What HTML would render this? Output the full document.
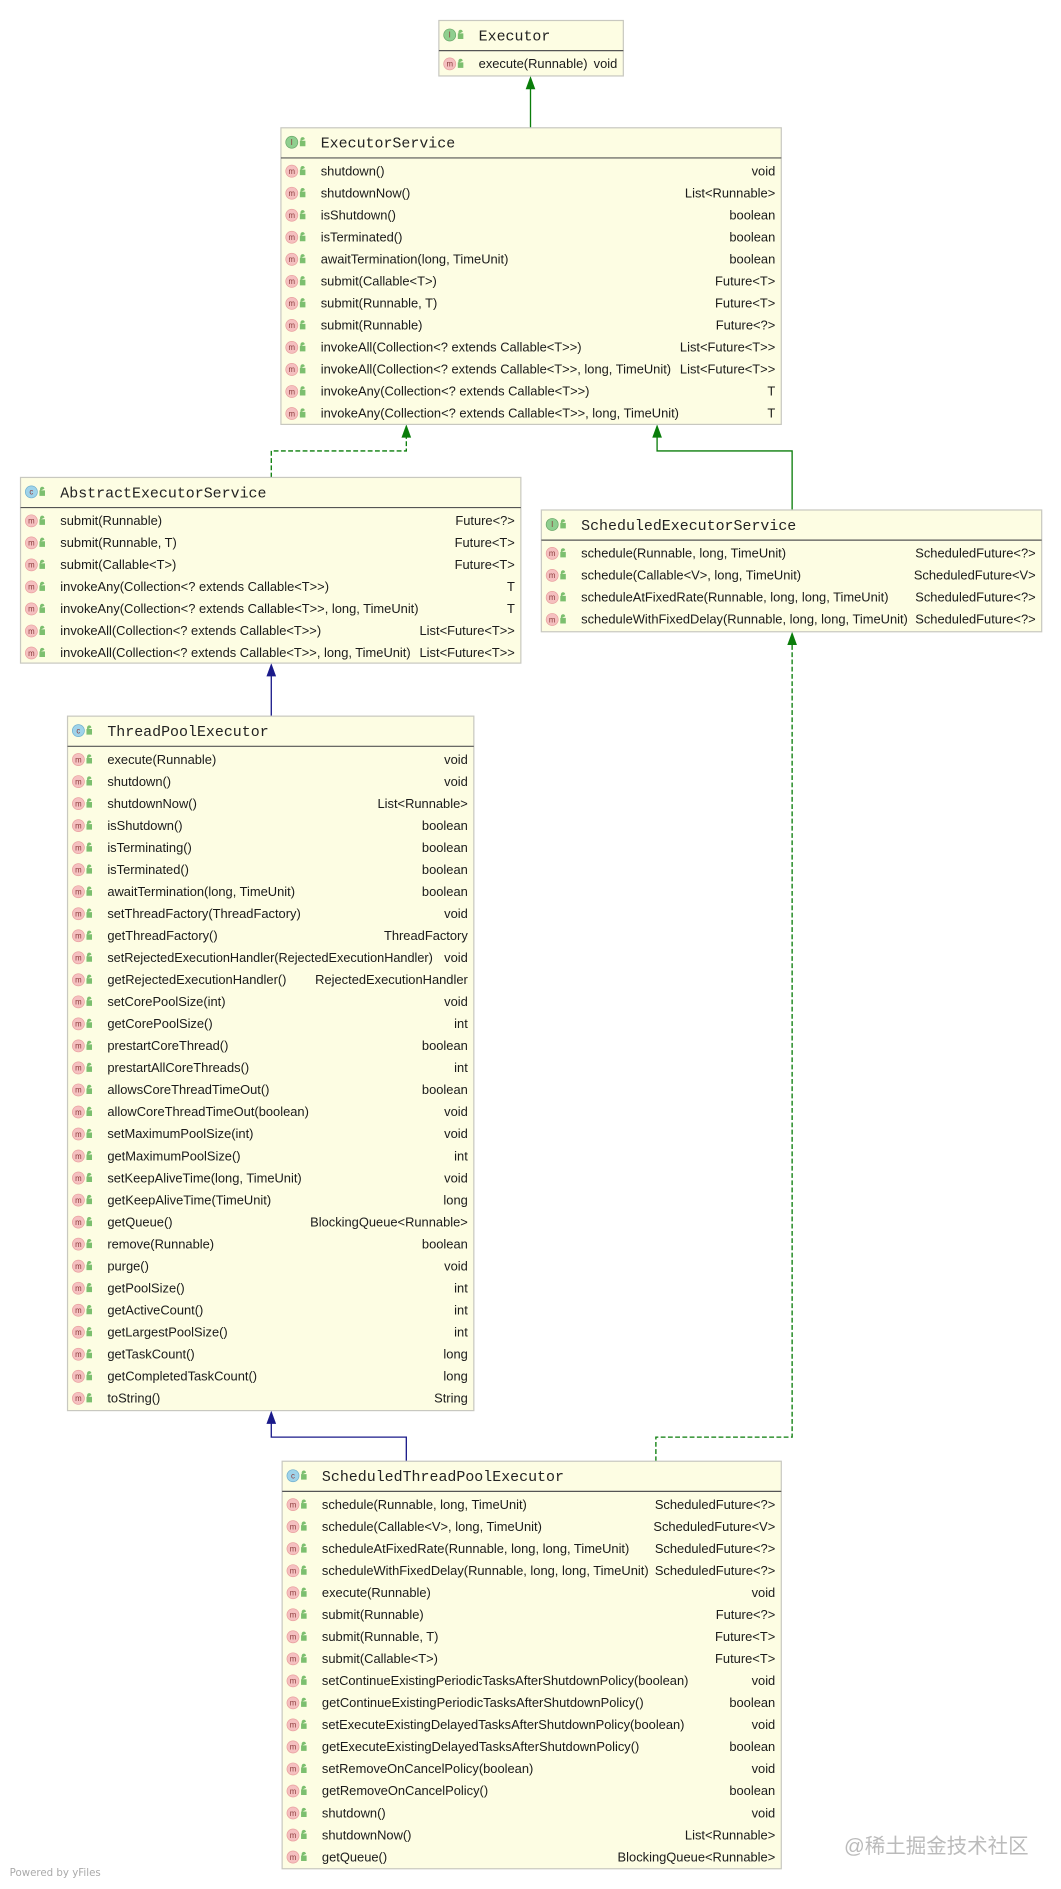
<!DOCTYPE html>
<html><head><meta charset="utf-8"><style>
html,body{margin:0;padding:0;background:#fff;}
svg{display:block;}
.t{font-family:"Liberation Mono",monospace;font-size:12.4px;fill:#222;}
.r{font-family:"Liberation Sans",sans-serif;font-size:10.7px;fill:#1a1a1a;}
.e{text-anchor:end;}
.mi{font-family:"Liberation Sans",sans-serif;font-size:6.5px;fill:#8a3a3a;text-anchor:middle;}
.box{fill:#fdfde3;stroke:#c8c8c0;stroke-width:1;}
.sep{stroke:#555;stroke-width:1;}
</style></head><body>
<svg width="1061" height="1889" viewBox="0 0 880 1566.8" xmlns="http://www.w3.org/2000/svg">
<defs>
<g id="m"><circle cx="9" cy="0" r="5" fill="#f5c0c0" stroke="#e9a0a0" stroke-width="0.6"/><path d="M16 -1 h4 v4 h-4z M16.5 -1 v-1.5 a1.5 1.5 0 0 1 3 0" fill="#7cbf6f" stroke="#7cbf6f" stroke-width="0.6"/></g>
<g id="lk"><path d="M16 -1 h4 v4 h-4z M16.5 -1 v-1.5 a1.5 1.5 0 0 1 3 0" fill="#7cbf6f" stroke="#7cbf6f" stroke-width="0.6"/></g>
</defs>

<g fill="none" stroke-width="1.1">
<path d="M440 106 V71" stroke="#0a7d0a"/>
<path d="M225 396 V374 H337 V360" stroke="#0a7d0a" stroke-dasharray="4,2"/>
<path d="M657 423 V374 H545 V360" stroke="#0a7d0a"/>
<path d="M225 594 V558" stroke="#1a1a8a"/>
<path d="M337 1212 V1192 H225 V1178" stroke="#1a1a8a"/>
<path d="M544 1212 V1192 H657 V532" stroke="#0a7d0a" stroke-dasharray="4,2"/>
</g>
<path d="M440 63 l-4 11 h8z" fill="#0a7d0a"/>
<path d="M337 352 l-4 11 h8z" fill="#0a7d0a"/>
<path d="M545 352 l-4 11 h8z" fill="#0a7d0a"/>
<path d="M657 524 l-4 11 h8z" fill="#0a7d0a"/>
<path d="M225 550 l-4 11 h8z" fill="#1a1a8a"/>
<path d="M225 1170 l-4 11 h8z" fill="#1a1a8a"/>

<g transform="translate(364,17)">
<rect class="box" x="0" y="0" width="153" height="46"/>
<circle cx="9" cy="12" r="5" fill="#8fcf8f" stroke="#6aa86a" stroke-width="0.6"/><text x="9" y="14.3" class="mi" fill="#2c5a2c">I</text>
<use href="#lk" y="12"/>
<text x="33" y="16.5" class="t">Executor</text>
<line class="sep" x1="0" y1="25" x2="153" y2="25"/>
<g transform="translate(0,36)"><use href="#m"/><text x="9" y="2.3" class="mi">m</text><text x="33" y="3.5" class="r">execute(Runnable)</text><text x="148" y="3.5" class="r e">void</text></g>
</g>

<g transform="translate(233,106)">
<rect class="box" x="0" y="0" width="415" height="246"/>
<circle cx="9" cy="12" r="5" fill="#8fcf8f" stroke="#6aa86a" stroke-width="0.6"/><text x="9" y="14.3" class="mi" fill="#2c5a2c">I</text>
<use href="#lk" y="12"/>
<text x="33" y="16.5" class="t">ExecutorService</text>
<line class="sep" x1="0" y1="25" x2="415" y2="25"/>
<g transform="translate(0,36)"><use href="#m"/><text x="9" y="2.3" class="mi">m</text><text x="33" y="3.5" class="r">shutdown()</text><text x="410" y="3.5" class="r e">void</text></g>
<g transform="translate(0,54.27)"><use href="#m"/><text x="9" y="2.3" class="mi">m</text><text x="33" y="3.5" class="r">shutdownNow()</text><text x="410" y="3.5" class="r e">List&lt;Runnable&gt;</text></g>
<g transform="translate(0,72.54)"><use href="#m"/><text x="9" y="2.3" class="mi">m</text><text x="33" y="3.5" class="r">isShutdown()</text><text x="410" y="3.5" class="r e">boolean</text></g>
<g transform="translate(0,90.81)"><use href="#m"/><text x="9" y="2.3" class="mi">m</text><text x="33" y="3.5" class="r">isTerminated()</text><text x="410" y="3.5" class="r e">boolean</text></g>
<g transform="translate(0,109.08)"><use href="#m"/><text x="9" y="2.3" class="mi">m</text><text x="33" y="3.5" class="r">awaitTermination(long, TimeUnit)</text><text x="410" y="3.5" class="r e">boolean</text></g>
<g transform="translate(0,127.35)"><use href="#m"/><text x="9" y="2.3" class="mi">m</text><text x="33" y="3.5" class="r">submit(Callable&lt;T&gt;)</text><text x="410" y="3.5" class="r e">Future&lt;T&gt;</text></g>
<g transform="translate(0,145.62)"><use href="#m"/><text x="9" y="2.3" class="mi">m</text><text x="33" y="3.5" class="r">submit(Runnable, T)</text><text x="410" y="3.5" class="r e">Future&lt;T&gt;</text></g>
<g transform="translate(0,163.89)"><use href="#m"/><text x="9" y="2.3" class="mi">m</text><text x="33" y="3.5" class="r">submit(Runnable)</text><text x="410" y="3.5" class="r e">Future&lt;?&gt;</text></g>
<g transform="translate(0,182.16)"><use href="#m"/><text x="9" y="2.3" class="mi">m</text><text x="33" y="3.5" class="r">invokeAll(Collection&lt;? extends Callable&lt;T&gt;&gt;)</text><text x="410" y="3.5" class="r e">List&lt;Future&lt;T&gt;&gt;</text></g>
<g transform="translate(0,200.43)"><use href="#m"/><text x="9" y="2.3" class="mi">m</text><text x="33" y="3.5" class="r">invokeAll(Collection&lt;? extends Callable&lt;T&gt;&gt;, long, TimeUnit)</text><text x="410" y="3.5" class="r e">List&lt;Future&lt;T&gt;&gt;</text></g>
<g transform="translate(0,218.7)"><use href="#m"/><text x="9" y="2.3" class="mi">m</text><text x="33" y="3.5" class="r">invokeAny(Collection&lt;? extends Callable&lt;T&gt;&gt;)</text><text x="410" y="3.5" class="r e">T</text></g>
<g transform="translate(0,236.97)"><use href="#m"/><text x="9" y="2.3" class="mi">m</text><text x="33" y="3.5" class="r">invokeAny(Collection&lt;? extends Callable&lt;T&gt;&gt;, long, TimeUnit)</text><text x="410" y="3.5" class="r e">T</text></g>
</g>

<g transform="translate(17,396)">
<rect class="box" x="0" y="0" width="415" height="154"/>
<circle cx="9" cy="12" r="5" fill="#9fd3ea" stroke="#6fb0cf" stroke-width="0.6"/><text x="9" y="14.3" class="mi" fill="#235">c</text>
<use href="#lk" y="12"/>
<text x="33" y="16.5" class="t">AbstractExecutorService</text>
<line class="sep" x1="0" y1="25" x2="415" y2="25"/>
<g transform="translate(0,36)"><use href="#m"/><text x="9" y="2.3" class="mi">m</text><text x="33" y="3.5" class="r">submit(Runnable)</text><text x="410" y="3.5" class="r e">Future&lt;?&gt;</text></g>
<g transform="translate(0,54.27)"><use href="#m"/><text x="9" y="2.3" class="mi">m</text><text x="33" y="3.5" class="r">submit(Runnable, T)</text><text x="410" y="3.5" class="r e">Future&lt;T&gt;</text></g>
<g transform="translate(0,72.54)"><use href="#m"/><text x="9" y="2.3" class="mi">m</text><text x="33" y="3.5" class="r">submit(Callable&lt;T&gt;)</text><text x="410" y="3.5" class="r e">Future&lt;T&gt;</text></g>
<g transform="translate(0,90.81)"><use href="#m"/><text x="9" y="2.3" class="mi">m</text><text x="33" y="3.5" class="r">invokeAny(Collection&lt;? extends Callable&lt;T&gt;&gt;)</text><text x="410" y="3.5" class="r e">T</text></g>
<g transform="translate(0,109.08)"><use href="#m"/><text x="9" y="2.3" class="mi">m</text><text x="33" y="3.5" class="r">invokeAny(Collection&lt;? extends Callable&lt;T&gt;&gt;, long, TimeUnit)</text><text x="410" y="3.5" class="r e">T</text></g>
<g transform="translate(0,127.35)"><use href="#m"/><text x="9" y="2.3" class="mi">m</text><text x="33" y="3.5" class="r">invokeAll(Collection&lt;? extends Callable&lt;T&gt;&gt;)</text><text x="410" y="3.5" class="r e">List&lt;Future&lt;T&gt;&gt;</text></g>
<g transform="translate(0,145.62)"><use href="#m"/><text x="9" y="2.3" class="mi">m</text><text x="33" y="3.5" class="r">invokeAll(Collection&lt;? extends Callable&lt;T&gt;&gt;, long, TimeUnit)</text><text x="410" y="3.5" class="r e">List&lt;Future&lt;T&gt;&gt;</text></g>
</g>

<g transform="translate(449,423)">
<rect class="box" x="0" y="0" width="415" height="101"/>
<circle cx="9" cy="12" r="5" fill="#8fcf8f" stroke="#6aa86a" stroke-width="0.6"/><text x="9" y="14.3" class="mi" fill="#2c5a2c">I</text>
<use href="#lk" y="12"/>
<text x="33" y="16.5" class="t">ScheduledExecutorService</text>
<line class="sep" x1="0" y1="25" x2="415" y2="25"/>
<g transform="translate(0,36)"><use href="#m"/><text x="9" y="2.3" class="mi">m</text><text x="33" y="3.5" class="r">schedule(Runnable, long, TimeUnit)</text><text x="410" y="3.5" class="r e">ScheduledFuture&lt;?&gt;</text></g>
<g transform="translate(0,54.27)"><use href="#m"/><text x="9" y="2.3" class="mi">m</text><text x="33" y="3.5" class="r">schedule(Callable&lt;V&gt;, long, TimeUnit)</text><text x="410" y="3.5" class="r e">ScheduledFuture&lt;V&gt;</text></g>
<g transform="translate(0,72.54)"><use href="#m"/><text x="9" y="2.3" class="mi">m</text><text x="33" y="3.5" class="r">scheduleAtFixedRate(Runnable, long, long, TimeUnit)</text><text x="410" y="3.5" class="r e">ScheduledFuture&lt;?&gt;</text></g>
<g transform="translate(0,90.81)"><use href="#m"/><text x="9" y="2.3" class="mi">m</text><text x="33" y="3.5" class="r">scheduleWithFixedDelay(Runnable, long, long, TimeUnit)</text><text x="410" y="3.5" class="r e">ScheduledFuture&lt;?&gt;</text></g>
</g>

<g transform="translate(56,594)">
<rect class="box" x="0" y="0" width="337" height="576"/>
<circle cx="9" cy="12" r="5" fill="#9fd3ea" stroke="#6fb0cf" stroke-width="0.6"/><text x="9" y="14.3" class="mi" fill="#235">c</text>
<use href="#lk" y="12"/>
<text x="33" y="16.5" class="t">ThreadPoolExecutor</text>
<line class="sep" x1="0" y1="25" x2="337" y2="25"/>
<g transform="translate(0,36)"><use href="#m"/><text x="9" y="2.3" class="mi">m</text><text x="33" y="3.5" class="r">execute(Runnable)</text><text x="332" y="3.5" class="r e">void</text></g>
<g transform="translate(0,54.27)"><use href="#m"/><text x="9" y="2.3" class="mi">m</text><text x="33" y="3.5" class="r">shutdown()</text><text x="332" y="3.5" class="r e">void</text></g>
<g transform="translate(0,72.54)"><use href="#m"/><text x="9" y="2.3" class="mi">m</text><text x="33" y="3.5" class="r">shutdownNow()</text><text x="332" y="3.5" class="r e">List&lt;Runnable&gt;</text></g>
<g transform="translate(0,90.81)"><use href="#m"/><text x="9" y="2.3" class="mi">m</text><text x="33" y="3.5" class="r">isShutdown()</text><text x="332" y="3.5" class="r e">boolean</text></g>
<g transform="translate(0,109.08)"><use href="#m"/><text x="9" y="2.3" class="mi">m</text><text x="33" y="3.5" class="r">isTerminating()</text><text x="332" y="3.5" class="r e">boolean</text></g>
<g transform="translate(0,127.35)"><use href="#m"/><text x="9" y="2.3" class="mi">m</text><text x="33" y="3.5" class="r">isTerminated()</text><text x="332" y="3.5" class="r e">boolean</text></g>
<g transform="translate(0,145.62)"><use href="#m"/><text x="9" y="2.3" class="mi">m</text><text x="33" y="3.5" class="r">awaitTermination(long, TimeUnit)</text><text x="332" y="3.5" class="r e">boolean</text></g>
<g transform="translate(0,163.89)"><use href="#m"/><text x="9" y="2.3" class="mi">m</text><text x="33" y="3.5" class="r">setThreadFactory(ThreadFactory)</text><text x="332" y="3.5" class="r e">void</text></g>
<g transform="translate(0,182.16)"><use href="#m"/><text x="9" y="2.3" class="mi">m</text><text x="33" y="3.5" class="r">getThreadFactory()</text><text x="332" y="3.5" class="r e">ThreadFactory</text></g>
<g transform="translate(0,200.43)"><use href="#m"/><text x="9" y="2.3" class="mi">m</text><text x="33" y="3.5" class="r" textLength="270" lengthAdjust="spacingAndGlyphs">setRejectedExecutionHandler(RejectedExecutionHandler)</text><text x="332" y="3.5" class="r e">void</text></g>
<g transform="translate(0,218.7)"><use href="#m"/><text x="9" y="2.3" class="mi">m</text><text x="33" y="3.5" class="r">getRejectedExecutionHandler()</text><text x="332" y="3.5" class="r e">RejectedExecutionHandler</text></g>
<g transform="translate(0,236.97)"><use href="#m"/><text x="9" y="2.3" class="mi">m</text><text x="33" y="3.5" class="r">setCorePoolSize(int)</text><text x="332" y="3.5" class="r e">void</text></g>
<g transform="translate(0,255.24)"><use href="#m"/><text x="9" y="2.3" class="mi">m</text><text x="33" y="3.5" class="r">getCorePoolSize()</text><text x="332" y="3.5" class="r e">int</text></g>
<g transform="translate(0,273.51)"><use href="#m"/><text x="9" y="2.3" class="mi">m</text><text x="33" y="3.5" class="r">prestartCoreThread()</text><text x="332" y="3.5" class="r e">boolean</text></g>
<g transform="translate(0,291.78)"><use href="#m"/><text x="9" y="2.3" class="mi">m</text><text x="33" y="3.5" class="r">prestartAllCoreThreads()</text><text x="332" y="3.5" class="r e">int</text></g>
<g transform="translate(0,310.05)"><use href="#m"/><text x="9" y="2.3" class="mi">m</text><text x="33" y="3.5" class="r">allowsCoreThreadTimeOut()</text><text x="332" y="3.5" class="r e">boolean</text></g>
<g transform="translate(0,328.32)"><use href="#m"/><text x="9" y="2.3" class="mi">m</text><text x="33" y="3.5" class="r">allowCoreThreadTimeOut(boolean)</text><text x="332" y="3.5" class="r e">void</text></g>
<g transform="translate(0,346.59)"><use href="#m"/><text x="9" y="2.3" class="mi">m</text><text x="33" y="3.5" class="r">setMaximumPoolSize(int)</text><text x="332" y="3.5" class="r e">void</text></g>
<g transform="translate(0,364.86)"><use href="#m"/><text x="9" y="2.3" class="mi">m</text><text x="33" y="3.5" class="r">getMaximumPoolSize()</text><text x="332" y="3.5" class="r e">int</text></g>
<g transform="translate(0,383.13)"><use href="#m"/><text x="9" y="2.3" class="mi">m</text><text x="33" y="3.5" class="r">setKeepAliveTime(long, TimeUnit)</text><text x="332" y="3.5" class="r e">void</text></g>
<g transform="translate(0,401.4)"><use href="#m"/><text x="9" y="2.3" class="mi">m</text><text x="33" y="3.5" class="r">getKeepAliveTime(TimeUnit)</text><text x="332" y="3.5" class="r e">long</text></g>
<g transform="translate(0,419.67)"><use href="#m"/><text x="9" y="2.3" class="mi">m</text><text x="33" y="3.5" class="r">getQueue()</text><text x="332" y="3.5" class="r e">BlockingQueue&lt;Runnable&gt;</text></g>
<g transform="translate(0,437.94)"><use href="#m"/><text x="9" y="2.3" class="mi">m</text><text x="33" y="3.5" class="r">remove(Runnable)</text><text x="332" y="3.5" class="r e">boolean</text></g>
<g transform="translate(0,456.21)"><use href="#m"/><text x="9" y="2.3" class="mi">m</text><text x="33" y="3.5" class="r">purge()</text><text x="332" y="3.5" class="r e">void</text></g>
<g transform="translate(0,474.48)"><use href="#m"/><text x="9" y="2.3" class="mi">m</text><text x="33" y="3.5" class="r">getPoolSize()</text><text x="332" y="3.5" class="r e">int</text></g>
<g transform="translate(0,492.75)"><use href="#m"/><text x="9" y="2.3" class="mi">m</text><text x="33" y="3.5" class="r">getActiveCount()</text><text x="332" y="3.5" class="r e">int</text></g>
<g transform="translate(0,511.02)"><use href="#m"/><text x="9" y="2.3" class="mi">m</text><text x="33" y="3.5" class="r">getLargestPoolSize()</text><text x="332" y="3.5" class="r e">int</text></g>
<g transform="translate(0,529.29)"><use href="#m"/><text x="9" y="2.3" class="mi">m</text><text x="33" y="3.5" class="r">getTaskCount()</text><text x="332" y="3.5" class="r e">long</text></g>
<g transform="translate(0,547.56)"><use href="#m"/><text x="9" y="2.3" class="mi">m</text><text x="33" y="3.5" class="r">getCompletedTaskCount()</text><text x="332" y="3.5" class="r e">long</text></g>
<g transform="translate(0,565.83)"><use href="#m"/><text x="9" y="2.3" class="mi">m</text><text x="33" y="3.5" class="r">toString()</text><text x="332" y="3.5" class="r e">String</text></g>
</g>

<g transform="translate(234,1212)">
<rect class="box" x="0" y="0" width="414" height="338"/>
<circle cx="9" cy="12" r="5" fill="#9fd3ea" stroke="#6fb0cf" stroke-width="0.6"/><text x="9" y="14.3" class="mi" fill="#235">c</text>
<use href="#lk" y="12"/>
<text x="33" y="16.5" class="t">ScheduledThreadPoolExecutor</text>
<line class="sep" x1="0" y1="25" x2="414" y2="25"/>
<g transform="translate(0,36)"><use href="#m"/><text x="9" y="2.3" class="mi">m</text><text x="33" y="3.5" class="r">schedule(Runnable, long, TimeUnit)</text><text x="409" y="3.5" class="r e">ScheduledFuture&lt;?&gt;</text></g>
<g transform="translate(0,54.27)"><use href="#m"/><text x="9" y="2.3" class="mi">m</text><text x="33" y="3.5" class="r">schedule(Callable&lt;V&gt;, long, TimeUnit)</text><text x="409" y="3.5" class="r e">ScheduledFuture&lt;V&gt;</text></g>
<g transform="translate(0,72.54)"><use href="#m"/><text x="9" y="2.3" class="mi">m</text><text x="33" y="3.5" class="r">scheduleAtFixedRate(Runnable, long, long, TimeUnit)</text><text x="409" y="3.5" class="r e">ScheduledFuture&lt;?&gt;</text></g>
<g transform="translate(0,90.81)"><use href="#m"/><text x="9" y="2.3" class="mi">m</text><text x="33" y="3.5" class="r">scheduleWithFixedDelay(Runnable, long, long, TimeUnit)</text><text x="409" y="3.5" class="r e">ScheduledFuture&lt;?&gt;</text></g>
<g transform="translate(0,109.08)"><use href="#m"/><text x="9" y="2.3" class="mi">m</text><text x="33" y="3.5" class="r">execute(Runnable)</text><text x="409" y="3.5" class="r e">void</text></g>
<g transform="translate(0,127.35)"><use href="#m"/><text x="9" y="2.3" class="mi">m</text><text x="33" y="3.5" class="r">submit(Runnable)</text><text x="409" y="3.5" class="r e">Future&lt;?&gt;</text></g>
<g transform="translate(0,145.62)"><use href="#m"/><text x="9" y="2.3" class="mi">m</text><text x="33" y="3.5" class="r">submit(Runnable, T)</text><text x="409" y="3.5" class="r e">Future&lt;T&gt;</text></g>
<g transform="translate(0,163.89)"><use href="#m"/><text x="9" y="2.3" class="mi">m</text><text x="33" y="3.5" class="r">submit(Callable&lt;T&gt;)</text><text x="409" y="3.5" class="r e">Future&lt;T&gt;</text></g>
<g transform="translate(0,182.16)"><use href="#m"/><text x="9" y="2.3" class="mi">m</text><text x="33" y="3.5" class="r" textLength="304" lengthAdjust="spacingAndGlyphs">setContinueExistingPeriodicTasksAfterShutdownPolicy(boolean)</text><text x="409" y="3.5" class="r e">void</text></g>
<g transform="translate(0,200.43)"><use href="#m"/><text x="9" y="2.3" class="mi">m</text><text x="33" y="3.5" class="r">getContinueExistingPeriodicTasksAfterShutdownPolicy()</text><text x="409" y="3.5" class="r e">boolean</text></g>
<g transform="translate(0,218.7)"><use href="#m"/><text x="9" y="2.3" class="mi">m</text><text x="33" y="3.5" class="r">setExecuteExistingDelayedTasksAfterShutdownPolicy(boolean)</text><text x="409" y="3.5" class="r e">void</text></g>
<g transform="translate(0,236.97)"><use href="#m"/><text x="9" y="2.3" class="mi">m</text><text x="33" y="3.5" class="r">getExecuteExistingDelayedTasksAfterShutdownPolicy()</text><text x="409" y="3.5" class="r e">boolean</text></g>
<g transform="translate(0,255.24)"><use href="#m"/><text x="9" y="2.3" class="mi">m</text><text x="33" y="3.5" class="r">setRemoveOnCancelPolicy(boolean)</text><text x="409" y="3.5" class="r e">void</text></g>
<g transform="translate(0,273.51)"><use href="#m"/><text x="9" y="2.3" class="mi">m</text><text x="33" y="3.5" class="r">getRemoveOnCancelPolicy()</text><text x="409" y="3.5" class="r e">boolean</text></g>
<g transform="translate(0,291.78)"><use href="#m"/><text x="9" y="2.3" class="mi">m</text><text x="33" y="3.5" class="r">shutdown()</text><text x="409" y="3.5" class="r e">void</text></g>
<g transform="translate(0,310.05)"><use href="#m"/><text x="9" y="2.3" class="mi">m</text><text x="33" y="3.5" class="r">shutdownNow()</text><text x="409" y="3.5" class="r e">List&lt;Runnable&gt;</text></g>
<g transform="translate(0,328.32)"><use href="#m"/><text x="9" y="2.3" class="mi">m</text><text x="33" y="3.5" class="r">getQueue()</text><text x="409" y="3.5" class="r e">BlockingQueue&lt;Runnable&gt;</text></g>
</g>

<text x="700" y="1537" font-family="'Liberation Sans','Noto Sans CJK SC',sans-serif" font-size="17" fill="#bbb">@稀土掘金技术社区</text>
<text x="8" y="1556" font-family="'DejaVu Sans',sans-serif" font-size="8.5" fill="#aaa">Powered by yFiles</text>
</svg>
</body></html>
